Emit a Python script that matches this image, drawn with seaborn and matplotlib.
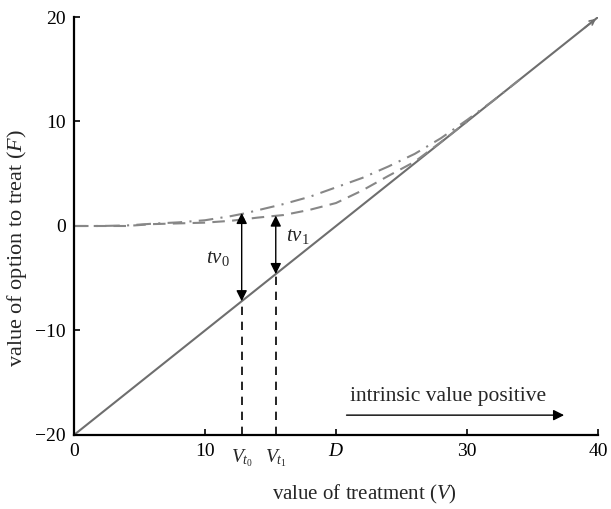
import numpy as np
import pandas as pd
import seaborn as sns
import matplotlib
matplotlib.use("Agg")
import matplotlib.pyplot as plt

# ---- data ----
line_V = [0, 40]
line_F = [-20, 20]

t0_V = [0, 2, 4, 6, 8, 10, 12, 13, 14, 16, 18, 20, 22, 24, 26, 28, 30, 32, 34]
t0_F = [0, 0, 0.05, 0.22, 0.35, 0.55, 0.95, 1.2, 1.5, 2.1, 2.8, 3.7, 4.6, 5.7, 6.9, 8.4, 10.15, 12.0, 14.0]

t1_V = [0, 2, 4, 6, 8, 10, 12, 14, 16, 18, 20, 22, 24, 26, 28, 30]
t1_F = [0, 0, 0, 0.18, 0.25, 0.32, 0.5, 0.8, 1.05, 1.55, 2.2, 3.4, 4.8, 6.15, 8.03, 10.0]

Vt0, Vt1, D = 12.8, 15.4, 20
tv0_top, tv1_top = 1.25, 1.0

xticks = [0, 10, 20, 30, 40]
xticklabels = ["0", "10", "$D$", "30", "40"]
yticks = [-20, -10, 0, 10, 20]
yticklabels = ["\u221220", "\u221210", "0", "10", "20"]

sns.set_theme(style="white")
plt.rcParams["font.family"] = ["Liberation Serif", "DejaVu Serif"]
plt.rcParams["mathtext.fontset"] = "custom"
plt.rcParams["mathtext.rm"] = "Liberation Serif"
plt.rcParams["mathtext.it"] = "Liberation Serif:italic"
plt.rcParams["axes.unicode_minus"] = True

fig = plt.figure(figsize=(6.11, 5.09), dpi=100)
ax = fig.add_axes([0.121, 0.1454, 0.858, 0.8212])

gray_line = "#6e6e6e"
gray_curve = "#878787"

sns.lineplot(x=line_V, y=line_F, ax=ax, color=gray_line, lw=1.5)
sns.lineplot(x=t0_V, y=t0_F, ax=ax, color=gray_curve, lw=1.5, dashes=False)
sns.lineplot(x=t1_V, y=t1_F, ax=ax, color=gray_curve, lw=1.5, dashes=False)
lines = ax.get_lines()
lines[1].set_dashes([7, 3.5, 1, 3.5])
lines[2].set_dashes([6, 3.5])

# small arrowhead at end of the intrinsic-value line
ax.annotate("", xy=(line_V[1], line_F[1]), xytext=(line_V[1] - 1.2, line_F[1] - 1.2),
            arrowprops=dict(arrowstyle="->", color=gray_line, lw=1.2, mutation_scale=9),
            annotation_clip=False)

# time-value arrows
for V, top in [(Vt0, tv0_top), (Vt1, tv1_top)]:
    bottom = V - 20
    ax.annotate("", xy=(V, top), xytext=(V, bottom),
                arrowprops=dict(arrowstyle="<|-|>", color="black", lw=1.0,
                                mutation_scale=16, shrinkA=0, shrinkB=0))
    ax.plot([V, V], [-20, bottom], color="black", lw=1.2, dashes=[5, 4])

ax.text(11.9, -3.1, "$tv_0$", ha="right", va="center", fontsize=15)
ax.text(16.2, -1.0, "$tv_1$", ha="left", va="center", fontsize=15)

# intrinsic value positive arrow
ax.text(21.1, -16.3, "intrinsic value positive", ha="left", va="center", fontsize=15.5)
ax.annotate("", xy=(37.4, -18.1), xytext=(20.8, -18.1),
            arrowprops=dict(arrowstyle="-|>", color="black", lw=1.0, mutation_scale=16,
                            shrinkA=0, shrinkB=0))

ax.set_xlim(0, 40)
ax.set_ylim(-20, 20)
ax.set_xticks(xticks)
ax.set_xticklabels(xticklabels, fontsize=14)
ax.set_yticks(yticks)
ax.set_yticklabels(yticklabels, fontsize=14)
for V, lab in [(Vt0, "$V_{t_0}$"), (Vt1, "$V_{t_1}$")]:
    ax.text(V, -21.2, lab, ha="center", va="top", fontsize=14,
            transform=ax.transData, clip_on=False)

ax.tick_params(direction="in", length=4, width=1.2, colors="black", pad=6,
               bottom=True, left=True)
for side in ["top", "right"]:
    ax.spines[side].set_visible(False)
for side in ["left", "bottom"]:
    ax.spines[side].set_color("black")
    ax.spines[side].set_linewidth(1.6)

ax.set_xlabel("value of treatment ($V$)", fontsize=15)
ax.set_ylabel("value of option to treat ($F$)", fontsize=16)
ax.xaxis.set_label_coords(0.555, -0.115)
ax.yaxis.set_label_coords(-0.085, 0.447)

fig.savefig("out.png", dpi=100)
